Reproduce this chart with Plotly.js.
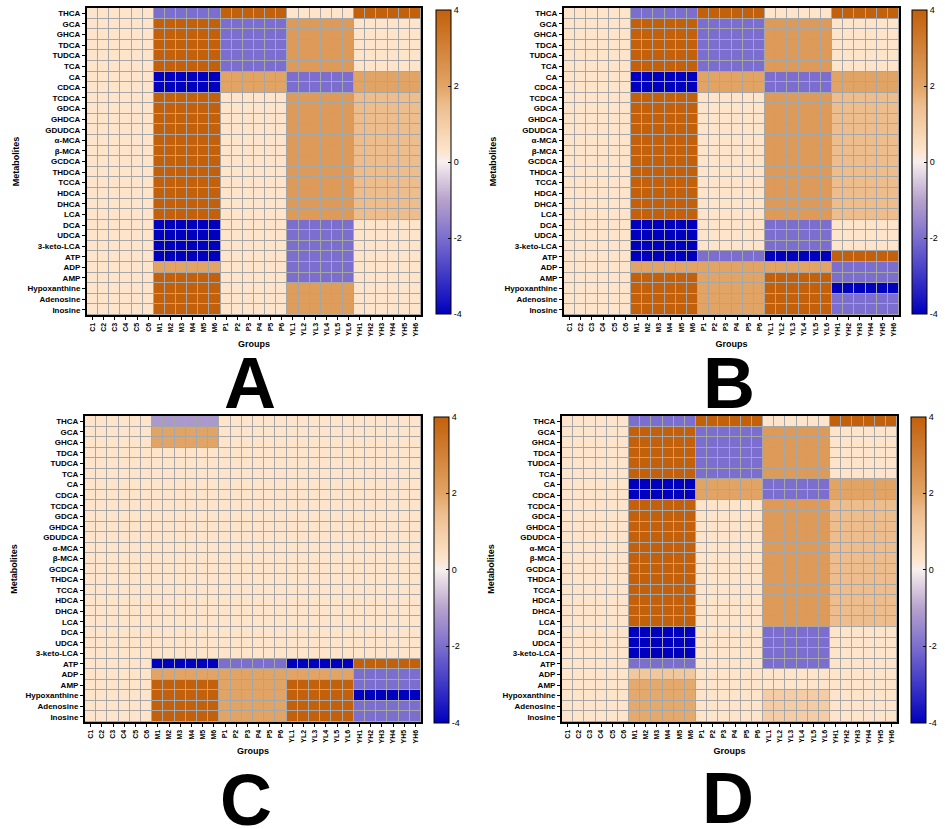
<!DOCTYPE html>
<html>
<head>
<meta charset="utf-8">
<script src="https://cdn.plot.ly/plotly-3.0.1.min.js"></script>
<style>html,body{margin:0;padding:0;background:#fff;}#chart{width:945px;height:829px;}</style>
</head>
<body>
<div id="chart"></div>
<script>
// ---- categories ----
const metabolites = ['THCA','GCA','GHCA','TDCA','TUDCA','TCA','CA','CDCA','TCDCA','GDCA','GHDCA','GDUDCA','α-MCA','β-MCA','GCDCA','THDCA','TCCA','HDCA','DHCA','LCA','DCA','UDCA','3-keto-LCA','ATP','ADP','AMP','Hypoxanthine','Adenosine','Inosine'];
const groupNames = ['C','M','P','YL','YH'];
const replicates = ['1','2','3','4','5','6'];

// ---- values per metabolite for each group (same value across the 6 replicates) ----
// Panel A
const A_C  = [0.3,0.3,0.3,0.3,0.3,0.3,0.3,0.3,0.3,0.3,0.3,0.3,0.3,0.3,0.3,0.3,0.3,0.3,0.3,0.3,0.3,0.3,0.3,0.3,0.3,0.3,0.3,0.3,0.3];
const A_M  = [-2,4,4,4,4,4,-4,-4,4,4,4,4,4,4,4,4,4,4,4,4,-4,-4,-4,-4,2,4,4,4,4];
const A_P  = [4,-2,-2,-2,-2,-2,2,2,0.3,0.3,0.3,0.3,0.3,0.3,0.3,0.3,0.3,0.3,0.3,0.3,0.3,0.3,0.3,0.3,0.3,0.3,0.3,0.3,0.3];
const A_YL = [0.3,2.3,2.3,2.3,2.3,2.3,-2,-2,2.3,2.3,2.3,2.3,2.3,2.3,2.3,2.3,2.3,2.3,2.3,2.3,-2,-2,-2,-2,-2,-2,2.2,2.2,2.2];
const A_YH = [4,0.3,0.3,0.3,0.3,0.3,2,2,1.5,1.5,1.5,1.5,1.5,1.5,1.5,1.5,1.5,1.5,1.5,1.5,0.3,0.3,0.3,0.3,0.3,0.3,0.3,0.3,0.3];
// Panel B
const B_C  = [0.3,0.3,0.3,0.3,0.3,0.3,0.3,0.3,0.3,0.3,0.3,0.3,0.3,0.3,0.3,0.3,0.3,0.3,0.3,0.3,0.3,0.3,0.3,0.3,0.3,0.3,0.3,0.3,0.3];
const B_M  = [-2,4,4,4,4,4,-4,-4,4,4,4,4,4,4,4,4,4,4,4,4,-4,-4,-4,-4,2,4,4,4,4];
const B_P  = [4,-2,-2,-2,-2,-2,2,2,0.3,0.3,0.3,0.3,0.3,0.3,0.3,0.3,0.3,0.3,0.3,0.3,0.3,0.3,0.3,-2,2,2,2,2,2];
const B_YL = [0.3,2.3,2.3,2.3,2.3,2.3,-2,-2,2.3,2.3,2.3,2.3,2.3,2.3,2.3,2.3,2.3,2.3,2.3,2.3,-2,-2,-2,-4,2,4,4,4,4];
const B_YH = [4,0.3,0.3,0.3,0.3,0.3,2,2,1.5,1.5,1.5,1.5,1.5,1.5,1.5,1.5,1.5,1.5,1.5,1.5,0.3,0.3,0.3,4,-2,-2,-4,-2,-2];
// Panel C
const C_C  = [0.3,0.3,0.3,0.3,0.3,0.3,0.3,0.3,0.3,0.3,0.3,0.3,0.3,0.3,0.3,0.3,0.3,0.3,0.3,0.3,0.3,0.3,0.3,0.3,0.3,0.3,0.3,0.3,0.3];
const C_M  = [-1.2,2,2,0.3,0.3,0.3,0.3,0.3,0.3,0.3,0.3,0.3,0.3,0.3,0.3,0.3,0.3,0.3,0.3,0.3,0.3,0.3,0.3,-4,2,4,4,4,4];
const C_P  = [0.3,0.3,0.3,0.3,0.3,0.3,0.3,0.3,0.3,0.3,0.3,0.3,0.3,0.3,0.3,0.3,0.3,0.3,0.3,0.3,0.3,0.3,0.3,-2,2,2,2,2,2];
const C_YL = [0.3,0.3,0.3,0.3,0.3,0.3,0.3,0.3,0.3,0.3,0.3,0.3,0.3,0.3,0.3,0.3,0.3,0.3,0.3,0.3,0.3,0.3,0.3,-4,2,4,4,4,4];
const C_YH = [0.3,0.3,0.3,0.3,0.3,0.3,0.3,0.3,0.3,0.3,0.3,0.3,0.3,0.3,0.3,0.3,0.3,0.3,0.3,0.3,0.3,0.3,0.3,4,-2,-2,-4,-2,-2];
// Panel D
const D_C  = [0.3,0.3,0.3,0.3,0.3,0.3,0.3,0.3,0.3,0.3,0.3,0.3,0.3,0.3,0.3,0.3,0.3,0.3,0.3,0.3,0.3,0.3,0.3,0.3,0.3,0.3,0.3,0.3,0.3];
const D_M  = [-2,4,4,4,4,4,-4,-4,4,4,4,4,4,4,4,4,4,4,4,4,-4,-4,-4,-2,1.2,1.9,1.9,1.9,1.9];
const D_P  = [4,-2,-2,-2,-2,-2,2,2,0.3,0.3,0.3,0.3,0.3,0.3,0.3,0.3,0.3,0.3,0.3,0.3,0.3,0.3,0.3,0.3,0.3,0.3,0.3,0.3,0.3];
const D_YL = [0.3,2.3,2.3,2.3,2.3,2.3,-2,-2,2.3,2.3,2.3,2.3,2.3,2.3,2.3,2.3,2.3,2.3,2.3,2.3,-2,-2,-2,-2,0.3,0.3,1.0,1.0,1.0];
const D_YH = [4,0.3,0.3,0.3,0.3,0.3,2,2,1.5,1.5,1.5,1.5,1.5,1.5,1.5,1.5,1.5,1.5,1.5,1.5,0.3,0.3,0.3,0.3,0.3,0.3,0.3,0.3,0.3];

const colorTicks = [-4,-2,0,2,4];
const panelLetters = ['A','B','C','D'];

// ---- build ----
const xLabels = [];
groupNames.forEach(g => replicates.forEach(r => xLabels.push(g + r)));

function buildZ(cols) {
  return metabolites.map((m, i) => {
    const row = [];
    cols.forEach(col => replicates.forEach(() => row.push(col[i])));
    return row;
  });
}

const panels = [
  {cols:[A_C,A_M,A_P,A_YL,A_YH], xd:[87/945,421/945], yd:[1-315/829,1-8/829], cbx:436/945, cby:1-162/829, cblen:304/829},
  {cols:[B_C,B_M,B_P,B_YL,B_YH], xd:[564/945,899/945], yd:[1-315/829,1-8/829], cbx:912/945, cby:1-162/829, cblen:304/829},
  {cols:[C_C,C_M,C_P,C_YL,C_YH], xd:[85/945,421/945], yd:[1-722/829,1-416/829], cbx:434/945, cby:1-569.5/829, cblen:306/829},
  {cols:[D_C,D_M,D_P,D_YL,D_YH], xd:[562/945,897/945], yd:[1-722/829,1-416/829], cbx:911/945, cby:1-569.5/829, cblen:306/829}
];

const colorscale = [
  [0, '#0000BE'],
  [0.25, '#7C6ECE'],
  [0.375, '#B7A2CC'],
  [0.5, '#F7EFEE'],
  [0.5375, '#FDE4CB'],
  [0.6875, '#EDBD8D'],
  [0.75, '#E2A465'],
  [1, '#C2600C']
];

const font = 'Arial, "Liberation Sans", sans-serif';
const data = [];
const layout = {
  width: 945, height: 829,
  margin: {l:0, r:0, t:0, b:0},
  paper_bgcolor: '#ffffff',
  showlegend: false,
  font: {family: font, color: '#000'},
  annotations: []
};

panels.forEach((p, k) => {
  const n = k === 0 ? '' : String(k + 1);
  data.push({
    type: 'heatmap',
    x: xLabels,
    y: metabolites,
    z: buildZ(p.cols),
    xaxis: 'x' + n,
    yaxis: 'y' + n,
    zmin: -4, zmax: 4,
    colorscale: colorscale,
    xgap: 1, ygap: 1,
    hoverinfo: 'x+y+z',
    colorbar: {
      x: p.cbx, xanchor: 'left', xref: 'paper', xpad: 0,
      y: p.cby, yanchor: 'middle', ypad: 0,
      len: p.cblen, lenmode: 'fraction',
      thickness: 15, thicknessmode: 'pixels',
      outlinewidth: 1, outlinecolor: '#000',
      tickvals: colorTicks, ticktext: colorTicks.map(String),
      ticks: 'inside', ticklen: 3, tickcolor: '#000',
      tickfont: {size: 9, family: font, color: '#000'}
    }
  });
  layout['xaxis' + n] = {
    domain: p.xd, anchor: 'y' + n, type: 'category',
    tickangle: -90, ticks: 'outside', ticklen: 3, tickwidth: 1, tickcolor: '#000',
    tickfont: {size: 7, family: font, weight: 700},
    showline: true, mirror: true, linewidth: 2, linecolor: '#000',
    showgrid: false, zeroline: false, fixedrange: true,
    title: {text: 'Groups', font: {size: 9, family: font, weight: 700}, standoff: 5}
  };
  layout['yaxis' + n] = {
    domain: p.yd, anchor: 'x' + n, type: 'category', autorange: 'reversed',
    ticks: 'outside', ticklen: 3, tickwidth: 1, tickcolor: '#000',
    tickfont: {size: 8, family: font, weight: 700},
    showline: true, mirror: true, linewidth: 2, linecolor: '#000',
    showgrid: false, zeroline: false, fixedrange: true,
    title: {text: 'Metabolites', font: {size: 9, family: font, weight: 700}, standoff: 6}
  };
});
layout.plot_bgcolor = '#A6A6A6';

const letterPos = [[250/945, 1-383/829],[729/945, 1-383/829],[246/945, 1-800/829],[728/945, 1-798/829]];
panelLetters.forEach((t, i) => {
  layout.annotations.push({
    text: t, xref: 'paper', yref: 'paper',
    x: letterPos[i][0], y: letterPos[i][1], xanchor: 'center', yanchor: 'middle',
    showarrow: false, font: {size: 72, family: font, weight: 700, color: '#000'}
  });
});

Plotly.newPlot('chart', data, layout, {displayModeBar: false, staticPlot: true});
</script>
</body>
</html>
